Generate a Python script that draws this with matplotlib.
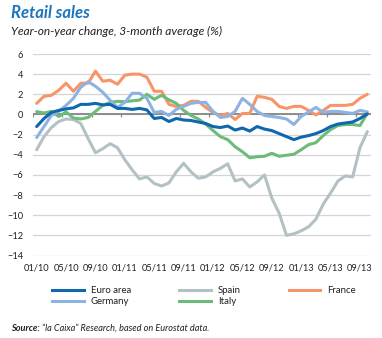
import numpy as np
import matplotlib
matplotlib.use("Agg")
import matplotlib.pyplot as plt
from matplotlib.lines import Line2D

plt.rcParams['font.family'] = ['Lato', 'DejaVu Sans']

# ---- data (monthly, 01/2010 .. 10/2013) ----
months = list(range(46))
tick_labels = ["01/10", "05/10", "09/10", "01/11", "05/11", "09/11",
               "01/12", "05/12", "09/12", "01/13", "05/13", "09/13"]

euro_area = [-1.2, -0.4, 0.2, 0.4, 0.55, 0.65, 1.0, 1.0, 1.1, 0.95, 1.0, 0.6,
             0.6, 0.5, 0.6, 0.45, -0.4, -0.3, -0.7, -0.4, -0.55, -0.6, -0.75, -0.9,
             -1.2, -1.3, -1.15, -1.55, -1.35, -1.65, -1.2, -1.45, -1.6, -1.9, -2.2, -2.5,
             -2.25, -2.1, -1.9, -1.6, -1.2, -0.95, -0.85, -0.75, -0.4, 0.05]
spain = [-3.5, -2.2, -1.3, -0.7, -0.45, -0.5, -0.9, -2.4, -3.8, -3.4, -2.9, -3.3,
         -4.5, -5.5, -6.4, -6.2, -6.85, -7.1, -6.8, -5.7, -4.85, -5.7, -6.33, -6.2,
         -5.7, -5.35, -4.9, -6.6, -6.4, -7.2, -6.7, -6.0, -8.3, -9.8, -12.0, -11.85,
         -11.55, -11.15, -10.4, -8.9, -7.8, -6.6, -6.1, -6.2, -3.3, -1.7]
france = [1.1, 1.8, 1.9, 2.4, 3.1, 2.3, 3.1, 3.1, 4.3, 3.3, 3.4, 3.0,
          3.9, 4.0, 4.0, 3.7, 2.3, 2.3, 1.0, 0.8, 0.9, 1.3, 1.3, 0.7,
          0.2, -0.1, 0.1, -0.5, 0.1, 0.1, 1.8, 1.7, 1.5, 0.8, 0.6, 0.8,
          0.8, 0.4, -0.05, 0.4, 0.9, 0.9, 0.9, 1.0, 1.6, 2.0]
germany = [-2.3, -1.2, -0.1, 0.3, 0.9, 1.6, 2.7, 3.25, 2.8, 2.2, 1.4, 0.7,
           1.2, 2.1, 2.1, 1.6, 0.2, 0.3, -0.1, 0.5, 0.8, 1.1, 1.2, 1.2,
           0.3, -0.3, -0.2, 0.3, 1.6, 1.0, 0.3, -0.1, -0.2, -0.3, -0.45, -1.0,
           -0.2, 0.25, 0.7, 0.2, 0.3, 0.3, 0.2, 0.1, 0.4, 0.25]
italy = [0.28, 0.15, 0.3, -0.2, 0.25, -0.35, -0.45, -0.3, 0.3, 0.9, 1.2, 1.3,
         1.27, 1.35, 1.43, 2.0, 1.5, 1.9, 1.45, 1.1, 0.4, -0.1, -0.45, -0.95,
         -1.6, -2.2, -2.5, -3.2, -3.7, -4.3, -4.2, -4.15, -3.85, -4.15, -4.05, -3.95,
         -3.5, -3.0, -2.8, -2.1, -1.5, -1.1, -1.0, -1.0, -1.1, 0.1]

series = [("Euro area", euro_area, "#0F67AE"),
          ("Germany", germany, "#8DB3E2"),
          ("Spain", spain, "#B3C1C5"),
          ("Italy", italy, "#6CBB79"),
          ("France", france, "#F79468")]

W, H = 382, 338
fig = plt.figure(figsize=(W / 100, H / 100), dpi=100)
ax = fig.add_axes([33 / W, 1 - 255.5 / H, 338 / W, 201.5 / H])

ax.set_xlim(-0.5, 45.5)
ax.set_ylim(-14, 6)
ax.set_yticks(np.arange(-14, 7, 2))
ax.set_xticks(months[::4])
ax.set_xticklabels(tick_labels)
ax.grid(axis='y', color='#D4D4D4', lw=0.9, zorder=0)
ax.set_axisbelow(True)
for s in ax.spines.values():
    s.set_visible(False)
ax.tick_params(axis='both', length=0, labelsize=6.7, colors='#231F20')
ax.tick_params(axis='y', pad=7)
ax.tick_params(axis='x', pad=5.5)

# zero line with small ticks between categories
ax.axhline(0, color='#8C8C8C', lw=1.4, zorder=1)
ax.vlines(np.arange(-0.5, 46, 4), -0.3, 0, color='#8C8C8C', lw=0.9, zorder=1)

zorders = {"Spain": 3, "France": 3.1, "Italy": 3.2, "Germany": 3.3, "Euro area": 3.4}
for name, vals, col in series:
    ax.plot(months, vals, color=col, lw=2.2, solid_joinstyle='round',
            solid_capstyle='round', zorder=zorders[name])

handles = [Line2D([], [], color=c, lw=2.2) for _, _, c in series]
labels = [n for n, _, _ in series]
fig.legend(handles, labels, ncol=3, loc='upper left',
           bbox_to_anchor=(52 / W, 1 - 286 / H), frameon=False,
           fontsize=6.9, handlelength=3.3, handletextpad=0.75,
           columnspacing=5.0, labelspacing=0.25, borderpad=0, borderaxespad=0,
           labelcolor='#231F20')

fig.text(11 / W, 1 - 18.5 / H, "Retail sales", fontsize=12, fontweight='bold',
         fontstyle='italic', color='#1B75BC', va='baseline', ha='left')
fig.text(11 / W, 1 - 35 / H, "Year-on-year change, 3-month average (%)",
         fontsize=8.6, fontstyle='italic', color='#231F20', va='baseline', ha='left')

t1 = fig.text(11 / W, 1 - 331 / H, "Source:", fontsize=6.6, fontweight='bold',
              fontstyle='italic', color='#231F20', va='baseline', ha='left')
r = fig.canvas.get_renderer()
bb = t1.get_window_extent(r)
fig.text((bb.x1 + 2) / W, 1 - 331 / H,
         "\u201cla Caixa\u201d Research, based on Eurostat data.",
         fontsize=6.6, fontstyle='italic', color='#231F20', va='baseline', ha='left')

fig.savefig("out.png", dpi=100)
